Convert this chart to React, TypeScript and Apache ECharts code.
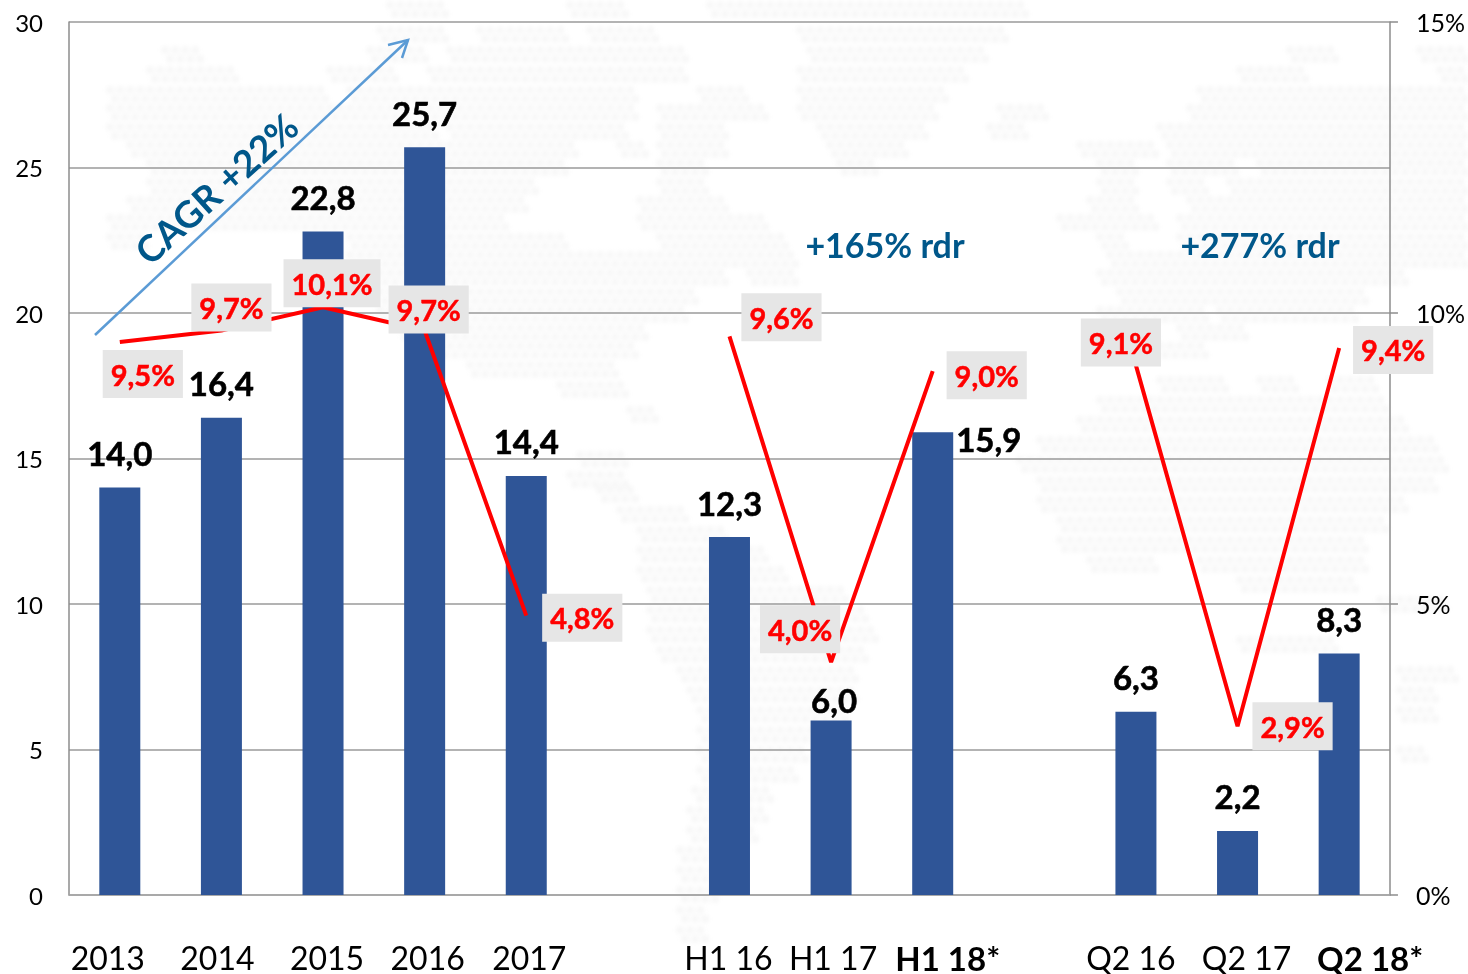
import React, { useEffect, useRef } from "react";
import * as echarts from "echarts";

const categories = ["2013", "2014", "2015", "2016", "2017", "", "H1 16", "H1 17", "H1 18*", "", "Q2 16", "Q2 17", "Q2 18*"];
const revenue = [14.0, 16.4, 22.8, 25.7, 14.4, null, 12.3, 6.0, 15.9, null, 6.3, 2.2, 8.3];
const margin = [9.5, 9.7, 10.1, 9.7, 4.8, null, 9.6, 4.0, 9.0, null, 9.1, 2.9, 9.4];
const boldCategories = ["H1 18*", "Q2 18*"];

// placement of labels relative to their marks
const categoryShift = [-12, -4, 4, 3, 3, 0, -1, 2, 15, 0, -5, 9, 31];
const revenueLabelOffset = [[0, 0], [0, 0], [0, 0], [0, 0], [0, 0], [0, 0], [0, 0], [3, 14], [56, 41], [0, 0], [0, 0], [0, 0], [0, 0]];
const marginLabelOffset = [[23, 32], [10, -23], [9, -24], [4, -21], [56, 2], [0, 0], [52, -19], [-31, -33], [54, 4], [0, 0], [-15, -23], [55, 0], [54, 2]];

// faint dotted world map behind the chart: [y, xStart, xEnd]
const mapRows = [
  [5, 390, 440], [5, 570, 620], [5, 710, 1020],
  [30, 380, 440], [30, 480, 560], [30, 590, 650], [30, 800, 1000],
  [50, 165, 195], [50, 370, 420], [50, 450, 680], [50, 810, 980], [50, 1290, 1330], [50, 1420, 1468],
  [70, 150, 230], [70, 330, 390], [70, 430, 680], [70, 800, 960], [70, 1240, 1300], [70, 1440, 1460],
  [90, 110, 320], [90, 350, 470], [90, 480, 630], [90, 700, 740], [90, 800, 940], [90, 1200, 1468],
  [108, 110, 400], [108, 420, 630], [108, 660, 760], [108, 800, 930], [108, 1000, 1040], [108, 1190, 1468],
  [127, 110, 430], [127, 450, 620], [127, 660, 720], [127, 820, 920], [127, 990, 1020], [127, 1160, 1468],
  [145, 130, 570], [145, 620, 640], [145, 660, 720], [145, 830, 900], [145, 1080, 1100], [145, 1110, 1150], [145, 1170, 1468],
  [163, 150, 560], [163, 660, 700], [163, 840, 870], [163, 1100, 1130], [163, 1170, 1230], [163, 1260, 1468],
  [182, 150, 530], [182, 660, 700], [182, 1100, 1130], [182, 1170, 1200], [182, 1230, 1468],
  [200, 130, 520], [200, 640, 720], [200, 1090, 1130], [200, 1190, 1210], [200, 1220, 1468],
  [218, 110, 290], [218, 300, 500], [218, 640, 760], [218, 1060, 1150], [218, 1180, 1468],
  [237, 110, 140], [237, 350, 560], [237, 660, 780], [237, 1100, 1120], [237, 1180, 1468],
  [255, 350, 650], [255, 660, 790], [255, 1110, 1468],
  [273, 350, 720], [273, 750, 790], [273, 1100, 1400],
  [292, 380, 690], [292, 1120, 1360],
  [310, 380, 680], [310, 1100, 1200], [310, 1220, 1350],
  [328, 400, 640], [328, 1120, 1150], [328, 1180, 1240],
  [346, 420, 630], [346, 1110, 1200],
  [365, 470, 610], [380, 1160, 1220], [380, 1260, 1290], [380, 1330, 1370],
  [385, 560, 620], [400, 1100, 1380], [410, 630, 650],
  [420, 1080, 1400], [440, 1040, 1430], [455, 580, 620], [460, 1020, 1440],
  [475, 570, 620], [480, 1040, 1430], [490, 600, 630], [500, 1040, 1400],
  [510, 620, 680], [520, 1060, 1380], [530, 640, 720], [540, 1060, 1360],
  [550, 640, 760], [560, 1090, 1150], [560, 1200, 1360], [570, 640, 780], [580, 1240, 1350],
  [590, 650, 840], [600, 1380, 1440], [610, 650, 860], [630, 650, 870], [640, 1240, 1330],
  [650, 660, 860], [670, 680, 850], [670, 1400, 1450], [690, 690, 850], [690, 1400, 1430],
  [710, 700, 840], [710, 1400, 1430], [730, 700, 830], [750, 700, 800], [750, 1400, 1420],
  [770, 700, 790], [790, 695, 770], [810, 690, 760], [830, 690, 750], [850, 680, 730],
  [870, 680, 720], [890, 680, 710], [910, 680, 700], [930, 680, 700],
];

const FONT = "Lato";
const comma = (v: number) => v.toFixed(1).replace(".", ",");

export default function App() {
  const chartRef = useRef<HTMLDivElement>(null);
  const mapRef = useRef<HTMLCanvasElement>(null);

  useEffect(() => {
    document.body.style.margin = "0";
    document.body.style.overflow = "hidden";

    const ctx = mapRef.current!.getContext("2d")!;
    ctx.fillStyle = "#f7f7f7";
    ctx.beginPath();
    for (const [y, x0, x1] of mapRows) {
      for (let x = x0; x <= x1; x += 10) {
        ctx.moveTo(x + 4, y);
        ctx.arc(x, y, 4, 0, Math.PI * 2);
        ctx.moveTo(x + 9, y + 9);
        ctx.arc(x + 5, y + 9, 4, 0, Math.PI * 2);
      }
    }
    ctx.fill();

    const chart = echarts.init(chartRef.current!, undefined, { renderer: "svg" });
    const richLabels: Record<string, any> = {};
    categories.forEach((c, i) => {
      const s = categoryShift[i];
      const bold = boldCategories.includes(c);
      richLabels["c" + i] = {
        fontFamily: FONT,
        fontSize: bold ? 33 : 32,
        color: "#000",
        fontWeight: bold ? "bold" : "normal",
        padding: s >= 0 ? [0, 0, 0, s * 2] : [0, -s * 2, 0, 0],
      };
    });

    chart.setOption({
      animation: false,
      backgroundColor: "transparent",
      grid: { left: 69, right: 78, top: 22, bottom: 79, containLabel: false },
      xAxis: {
        type: "category",
        data: categories,
        axisLine: { lineStyle: { color: "#a6a6a6", width: 1.5 } },
        axisTick: { show: false },
        axisLabel: {
          interval: 0,
          margin: 46,
          formatter: (v: string, i: number) => (v ? `{c${i}|${v}}` : ""),
          rich: richLabels,
        },
      },
      yAxis: [
        {
          type: "value", min: 0, max: 30, interval: 5,
          axisLine: { show: true, lineStyle: { color: "#8c8c8c", width: 1.5 } },
          axisTick: { show: false },
          splitLine: { show: true, lineStyle: { color: "#9a9a9a", width: 1.5 } },
          axisLabel: { fontFamily: FONT, fontSize: 24, color: "#000", margin: 26, padding: [0, 0, 3, 0] },
        },
        {
          type: "value", min: 0, max: 15, interval: 5, position: "right",
          axisLine: { show: true, lineStyle: { color: "#8c8c8c", width: 1.5 } },
          axisTick: { show: true, length: 8, lineStyle: { color: "#8c8c8c", width: 1.5 } },
          splitLine: { show: false },
          axisLabel: { fontFamily: FONT, fontSize: 25, color: "#000", margin: 26, padding: [0, 0, 3, 0], formatter: "{value}%" },
        },
      ],
      series: [
        {
          type: "bar",
          yAxisIndex: 0,
          barWidth: 41,
          itemStyle: { color: "#2f5597" },
          data: revenue.map((v, i) => ({
            value: v,
            label: { offset: revenueLabelOffset[i] },
          })),
          label: {
            show: true,
            position: "top",
            distance: 18,
            fontFamily: FONT,
            fontSize: 33,
            fontWeight: "bold",
            color: "#000",
            textBorderColor: "#000",
            textBorderWidth: 0.6,
            formatter: (p: any) => comma(p.value),
          },
        },
        {
          type: "line",
          yAxisIndex: 1,
          symbol: "circle",
          symbolSize: 0,
          connectNulls: false,
          lineStyle: { color: "#ff0000", width: 4, cap: "butt" },
          data: margin.map((v, i) => ({
            value: v,
            label: { offset: marginLabelOffset[i] },
          })),
          label: {
            show: true,
            position: "inside",
            fontFamily: FONT,
            fontSize: 29,
            fontWeight: "bold",
            color: "#ff0000",
            textBorderColor: "#ff0000",
            textBorderWidth: 0.5,
            backgroundColor: "#e6e6e6",
            padding: [9, 8, 10, 8],
            formatter: (p: any) => `${comma(p.value)}%`,
          },
        },
      ],
      graphic: [
        { type: "line", shape: { x1: 95, y1: 335, x2: 408, y2: 40 }, style: { stroke: "#5b9bd5", lineWidth: 2.5 }, z: 10 },
        { type: "polyline", shape: { points: [[388, 45], [408, 40], [402, 58]] }, style: { stroke: "#5b9bd5", lineWidth: 2.5, fill: "none" }, z: 10 },
        {
          type: "text", x: 216, y: 188, rotation: (42 * Math.PI) / 180, z: 10,
          style: { text: "CAGR +22%", fontFamily: FONT, fontSize: 37, fontWeight: "bold", fill: "#00578a", align: "center", verticalAlign: "middle" },
        },
        {
          type: "text", x: 885, y: 244, z: 10,
          style: { text: "+165% rdr", fontFamily: FONT, fontSize: 34, fontWeight: "bold", fill: "#00578a", align: "center", verticalAlign: "middle" },
        },
        {
          type: "text", x: 1260, y: 244, z: 10,
          style: { text: "+277% rdr", fontFamily: FONT, fontSize: 34, fontWeight: "bold", fill: "#00578a", align: "center", verticalAlign: "middle" },
        },
      ],
    });
    return () => chart.dispose();
  }, []);

  return (
    <div style={{ position: "absolute", left: 0, top: 0, width: 1468, height: 974, background: "#fff", overflow: "hidden" }}>
      <canvas ref={mapRef} width={1468} height={974} style={{ position: "absolute", left: 0, top: 0, filter: "blur(2px)" }} />
      <div ref={chartRef} style={{ position: "absolute", left: 0, top: 0, width: 1468, height: 974 }} />
    </div>
  );
}
